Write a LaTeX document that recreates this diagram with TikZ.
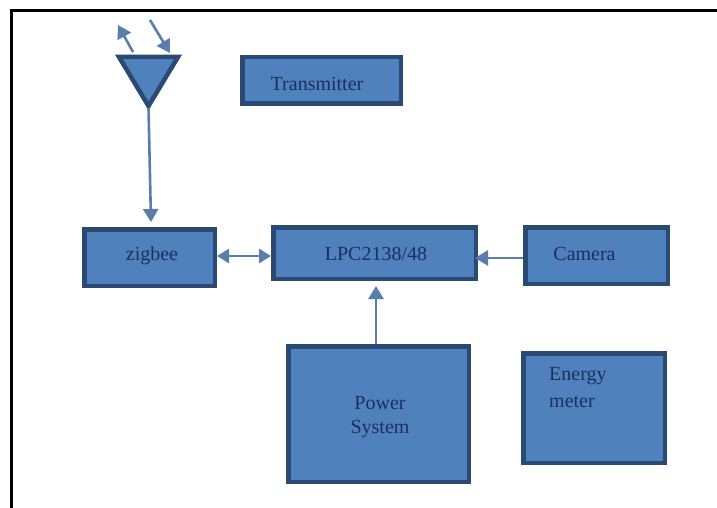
\documentclass[tikz,border=0pt]{standalone}
\usepackage{fontspec}
\setmainfont{Liberation Serif}
\usetikzlibrary{arrows.meta}
\definecolor{boxfill}{HTML}{4F81BD}
\definecolor{boxedge}{HTML}{2A4A73}
\definecolor{wire}{HTML}{5A7DAB}
\definecolor{inkblue}{HTML}{1B2F63}
\tikzset{
  block/.style={draw=boxedge,fill=boxfill,line width=4.5pt,inner sep=0pt,text=inkblue,font=\fontsize{20}{24}\selectfont},
  lab/.style={text=inkblue,font=\fontsize{20}{24}\selectfont,inner sep=0pt,align=center},
  wireline/.style={draw=wire,line width=2.6pt,-{Triangle[length=13pt,width=15pt]}},
  bothway/.style={draw=wire,line width=2.6pt,{Triangle[length=12pt,width=14pt]}-{Triangle[length=12pt,width=14pt]}},
}
\begin{document}
\begin{tikzpicture}[x=1pt,y=-1pt]
\useasboundingbox (0,0) rectangle (717,508);
\fill[white] (0,0) rectangle (717,508);
\draw[black,line width=3pt] (11,508) -- (11,11) -- (717,11);
% blocks
\node[block,minimum width=158.5pt,minimum height=46.5pt,label={[lab,xshift=-4.5pt,yshift=-3.5pt]center:Transmitter}] (tx) at (321.5,80.5) {};
\node[block,minimum width=130.5pt,minimum height=56.5pt,label={[lab,xshift=2.5pt,yshift=1.5pt]center:zigbee}] (zig) at (149.5,257.5) {};
\node[block,minimum width=202.5pt,minimum height=51.5pt,label={[lab,xshift=1.5pt,yshift=-1pt]center:LPC2138/48}] (lpc) at (374.5,253) {};
\node[block,minimum width=142.5pt,minimum height=56.5pt,label={[lab,xshift=-12pt,yshift=1.5pt]center:Camera}] (cam) at (596.5,255.5) {};
\node[block,minimum width=180.5pt,minimum height=135.5pt,label={[lab,xshift=1.5pt,yshift=-3pt]center:Power\\[0pt]System}] (pow) at (378.5,414) {};
\node[block,minimum width=141.5pt,minimum height=109.5pt] (en) at (594,408) {};
\node[lab,align=left,anchor=north west] (enl) at (549,367) {Energy\\[3pt]meter};
% antenna
\coordinate (tl) at (119,57);
\coordinate (tr) at (178,57);
\coordinate (ta) at (148.5,106);
\draw[draw=boxedge,fill=boxfill,line width=4.5pt,line join=miter] (tl) -- (tr) -- (ta) -- cycle;
\coordinate (upS) at (133,52);
\coordinate (upE) at (118,25);
\coordinate (dnS) at (150,20);
\coordinate (dnE) at (170,53);
\coordinate (feedS) at (148.5,108);
\coordinate (feedE) at (151,222);
\draw[wireline] (upS) -- (upE);
\draw[wireline] (dnS) -- (dnE);
\draw[wireline] (feedS) -- (feedE);
% connectors
\draw[bothway] (zig.east |- 0,256) -- (lpc.west |- 0,256);
\draw[wireline] (cam.west |- 0,258) -- ([xshift=-3pt]lpc.east |- 0,258);
\draw[wireline] (pow.north -| 376,0) -- (376,286);
\end{tikzpicture}
\end{document}
